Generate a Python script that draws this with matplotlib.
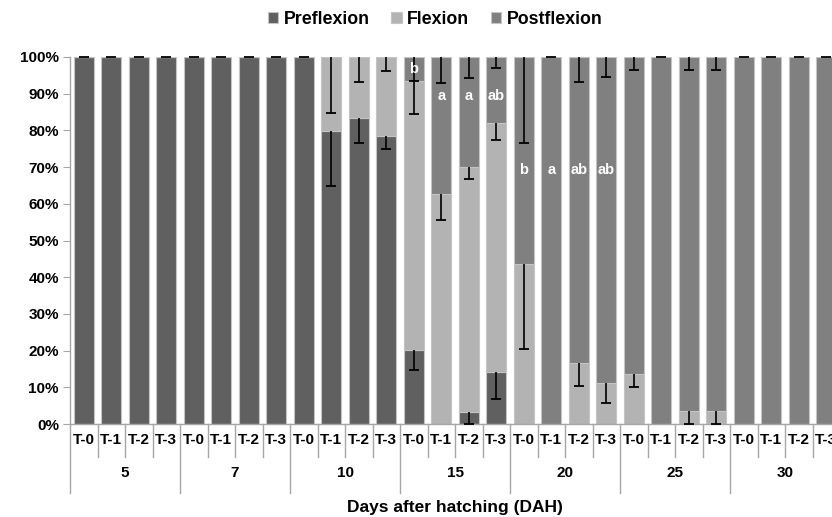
import matplotlib
matplotlib.use("Agg")
import matplotlib.pyplot as plt
import numpy as np

plt.rcParams['font.family'] = ['Liberation Sans', 'DejaVu Sans']

days = ['5', '7', '10', '15', '20', '25', '30']
treatments = ['T-0', 'T-1', 'T-2', 'T-3']

preflexion = [100, 100, 100, 100,
              100, 100, 100, 100,
              100, 79.9, 83.3, 78.6,
              20.2, 0, 3.4, 14.2,
              0, 0, 0, 0,
              0, 0, 0, 0,
              0, 0, 0, 0]
flexion = [0, 0, 0, 0,
           0, 0, 0, 0,
           0, 20.1, 16.7, 21.4,
           73.3, 62.7, 66.6, 67.9,
           43.7, 0, 16.7, 11.3,
           13.5, 0, 3.6, 3.6,
           0, 0, 0, 0]
postflexion = [0, 0, 0, 0,
               0, 0, 0, 0,
               0, 0, 0, 0,
               6.5, 37.3, 30.0, 17.9,
               56.3, 100, 83.3, 88.7,
               86.5, 100, 96.4, 96.4,
               100, 100, 100, 100]

pre_err = [0, 0, 0, 0,
           0, 0, 0, 0,
           0, 15.0, 6.7, 3.8,
           5.6, 0, 3.4, 7.5,
           0, 0, 0, 0,
           0, 0, 0, 0,
           0, 0, 0, 0]
flex_err = [0, 0, 0, 0,
            0, 0, 0, 0,
            0, 15.2, 6.8, 3.8,
            8.9, 7.2, 3.2, 4.7,
            23.4, 0, 6.3, 5.6,
            3.3, 0, 3.6, 3.6,
            0, 0, 0, 0]
post_err = [0, 0, 0, 0,
            0, 0, 0, 0,
            0, 0, 0, 0,
            6.5, 7.2, 5.8, 3.1,
            23.3, 0, 6.7, 5.5,
            3.5, 0, 3.5, 3.5,
            0, 0, 0, 0]

letters = {12: ('b', 96.6), 13: ('a', 89.4), 14: ('a', 89.4), 15: ('ab', 89.4),
           16: ('b', 69.2), 17: ('a', 69.2), 18: ('ab', 69.2), 19: ('ab', 69.2)}

series = [('Preflexion', preflexion, pre_err, '#606060'),
          ('Flexion', flexion, flex_err, '#b3b3b3'),
          ('Postflexion', postflexion, post_err, '#808080')]

fig = plt.figure(figsize=(8.32, 5.17), dpi=100)
ax = fig.add_axes([70/832, 1 - 424/517, 770/832, 367/517])

n = len(days) * len(treatments)
x = np.arange(n)
bottom = np.zeros(n)
handles = []
for name, vals, errs, col in series:
    v = np.array(vals, dtype=float) / 100
    e = np.array(errs, dtype=float) / 100
    b = ax.bar(x, v, 0.71, bottom=bottom, color=col, edgecolor='#c4c4c4',
               linewidth=0.8, label=name, zorder=2)
    handles.append(b)
    top = bottom + v
    mask = v > 0
    low = top - e
    ax.vlines(x[mask], low[mask], top[mask], colors='black', linewidth=1.2,
              zorder=3)
    ax.plot(x[mask], low[mask], linestyle='none', marker='_', markersize=7,
            markeredgewidth=1.3, color='black', zorder=3, clip_on=False)
    bottom = top

for i, (t, yv) in letters.items():
    ax.text(i, yv / 100, t, color='white', fontweight='bold', fontsize=10.5,
            ha='center', va='center', zorder=4)

ax.set_xlim(-0.5, n - 0.5)
ax.set_ylim(0, 1)
ax.set_yticks(np.arange(0, 1.01, 0.1))
ax.set_yticklabels([f'{int(round(t*100))}%' for t in np.arange(0, 1.01, 0.1)],
                   fontweight='bold', fontsize=11)
ax.tick_params(axis='y', length=5, color='#a6a6a6', pad=3)
ax.set_xticks([])
for s in ['top', 'right']:
    ax.spines[s].set_visible(False)
for s in ['left', 'bottom']:
    ax.spines[s].set_color('#a6a6a6')
    ax.spines[s].set_linewidth(1)

trans = ax.get_xaxis_transform()
for k in range(n + 1):
    ylow = -0.188 if k % 4 == 0 else -0.09
    ax.plot([k - 0.5, k - 0.5], [0, ylow], color='#a6a6a6', lw=1,
            transform=trans, clip_on=False)
for i in range(n):
    ax.text(i, -0.044, treatments[i % 4], transform=trans, ha='center',
            va='center', fontweight='bold', fontsize=11)
for g, d in enumerate(days):
    ax.text(g * 4 + 1.5, -0.134, d, transform=trans, ha='center',
            va='center', fontweight='bold', fontsize=11)
ax.text(0.5, -0.228, 'Days after hatching (DAH)', transform=ax.transAxes,
        ha='center', va='center', fontweight='bold', fontsize=12.5)

fig.legend(handles=handles, labels=[s[0] for s in series], loc='center',
           bbox_to_anchor=(435/832, 1 - 19/517), ncol=3, frameon=False,
           prop={'weight': 'bold', 'size': 12.8}, handlelength=0.6,
           handleheight=0.6, handletextpad=0.3, columnspacing=1.2)

fig.savefig('out.png', dpi=100)
